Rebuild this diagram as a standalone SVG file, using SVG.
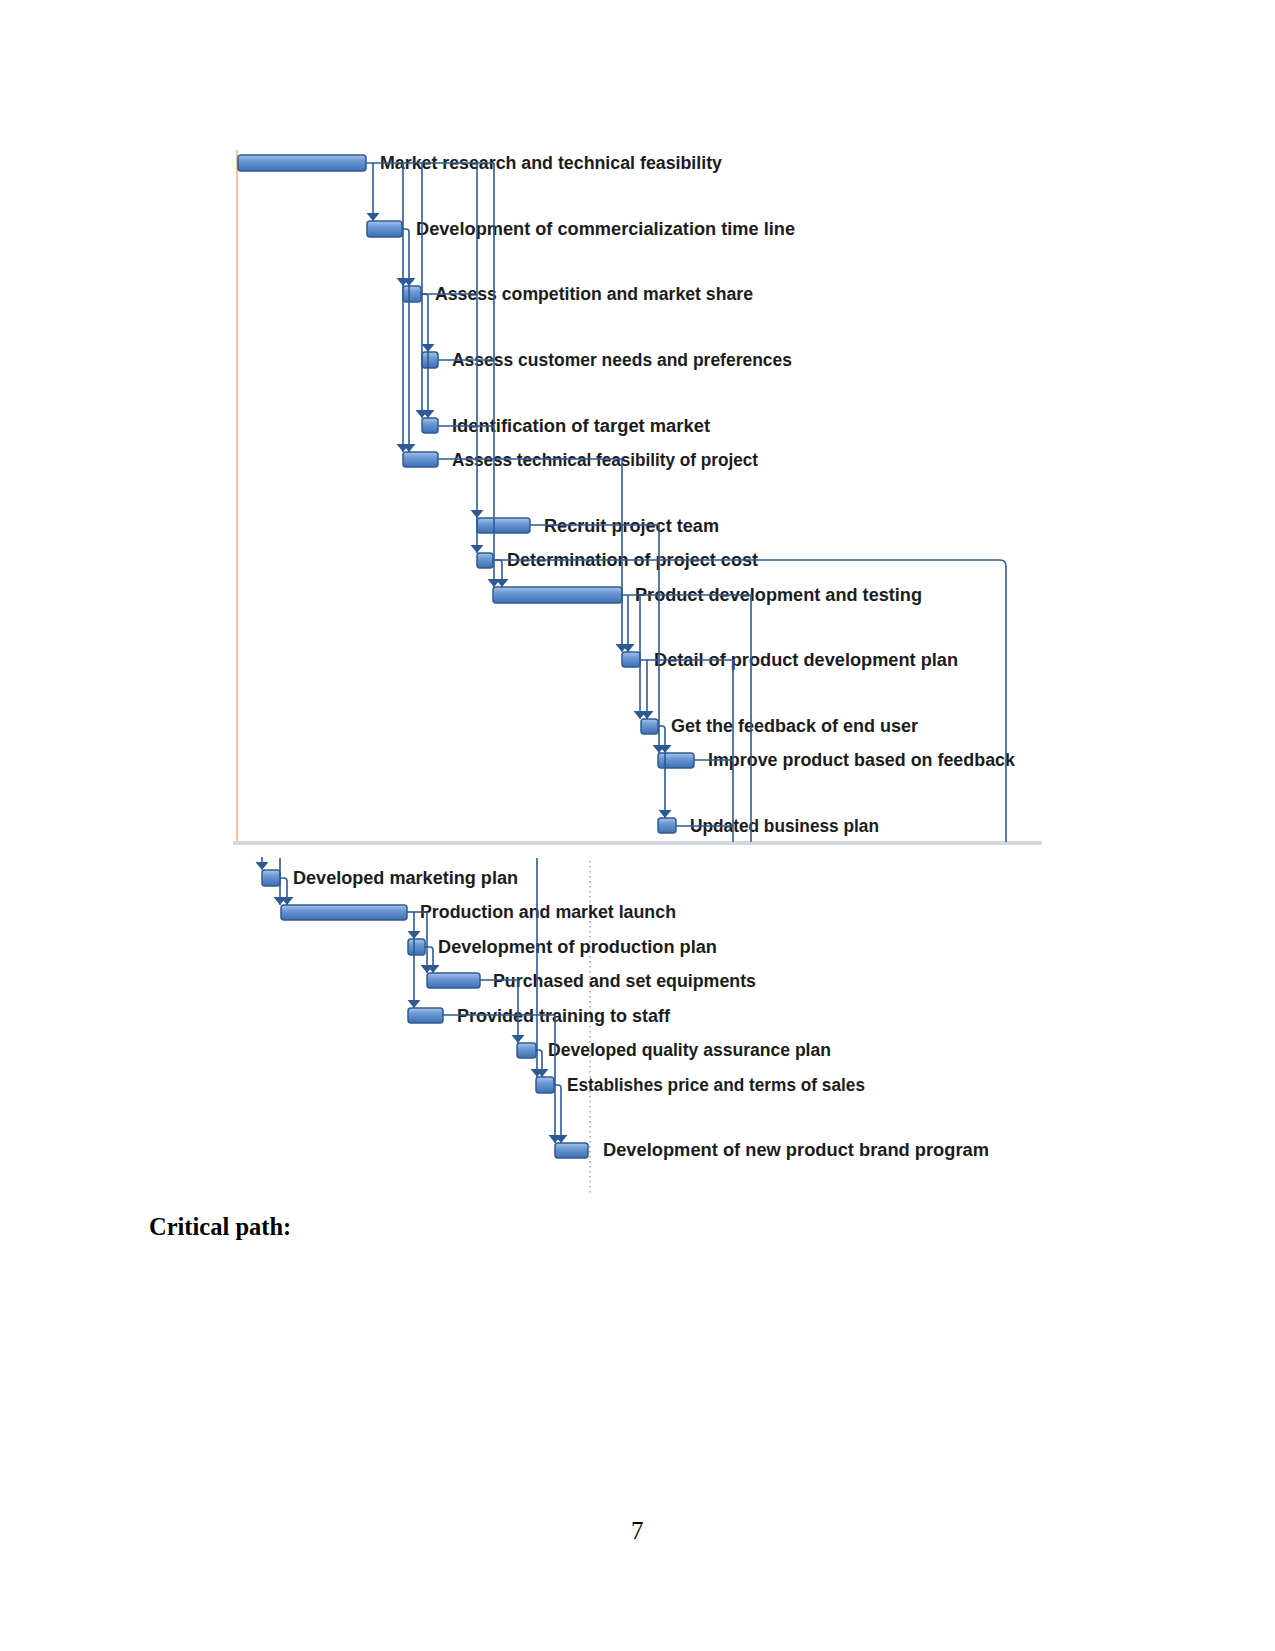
<svg xmlns="http://www.w3.org/2000/svg" xmlns:xlink="http://www.w3.org/1999/xlink" width="1275" height="1651" viewBox="0 0 1275 1651">
<style>
.bar{fill:url(#barg);stroke:#2f5b93;stroke-width:1.5}
.lbl{font-family:"Liberation Sans",Arial,sans-serif;font-weight:bold;font-size:18px;fill:#1c1c1c}
.ln{fill:none;stroke:#2e5a94;stroke-width:1.6}
.ah{fill:#2e5a94}
.pg{font-family:"Liberation Serif","Times New Roman",serif;fill:#000}
</style>
<defs>
<linearGradient id="barg" x1="0" y1="0" x2="0" y2="1">
<stop offset="0" stop-color="#a9c4e8"/>
<stop offset="0.35" stop-color="#6f9bd6"/>
<stop offset="1" stop-color="#3e6fb3"/>
</linearGradient>
<path id="arr" d="M-6.5,-8 L6.5,-8 L0,0 Z"/>
</defs>
<rect width="1275" height="1651" fill="#fff"/>
<line x1="237" y1="150" x2="237" y2="842" stroke="#f4b183" stroke-width="1.6"/>
<line x1="233" y1="843" x2="1042" y2="843" stroke="#d3d6da" stroke-width="4"/>
<line x1="590" y1="861" x2="590" y2="1195" stroke="#9a9a9a" stroke-width="1.4" stroke-dasharray="1.5 3.5"/>
<g id="nodes">
<g id="t1"><rect class="bar" x="238" y="155" width="128" height="16" rx="3"/><text class="lbl" x="380" y="169" textLength="342" lengthAdjust="spacingAndGlyphs">Market research and technical feasibility</text></g>
<g id="t2"><rect class="bar" x="367" y="221" width="35" height="16" rx="3"/><text class="lbl" x="416" y="235" textLength="379" lengthAdjust="spacingAndGlyphs">Development of commercialization time line</text></g>
<g id="t3"><rect class="bar" x="403" y="286" width="18" height="16" rx="3"/><text class="lbl" x="435" y="300" textLength="318" lengthAdjust="spacingAndGlyphs">Assess competition and market share</text></g>
<g id="t4"><rect class="bar" x="422" y="352" width="16" height="16" rx="3"/><text class="lbl" x="452" y="366" textLength="340" lengthAdjust="spacingAndGlyphs">Assess customer needs and preferences</text></g>
<g id="t5"><rect class="bar" x="422" y="418" width="16" height="15" rx="3"/><text class="lbl" x="452" y="432" textLength="258" lengthAdjust="spacingAndGlyphs">Identification of target market</text></g>
<g id="t6"><rect class="bar" x="403" y="452" width="35" height="15" rx="3"/><text class="lbl" x="452" y="466" textLength="306" lengthAdjust="spacingAndGlyphs">Assess technical feasibility of project</text></g>
<g id="t7"><rect class="bar" x="477" y="518" width="53" height="15" rx="3"/><text class="lbl" x="544" y="532" textLength="175" lengthAdjust="spacingAndGlyphs">Recruit project team</text></g>
<g id="t8"><rect class="bar" x="477" y="553" width="16" height="15" rx="3"/><text class="lbl" x="507" y="566" textLength="251" lengthAdjust="spacingAndGlyphs">Determination of project cost</text></g>
<g id="t9"><rect class="bar" x="493" y="587" width="129" height="16" rx="3"/><text class="lbl" x="635" y="601" textLength="287" lengthAdjust="spacingAndGlyphs">Product development and testing</text></g>
<g id="t10"><rect class="bar" x="622" y="652" width="18" height="15" rx="3"/><text class="lbl" x="654" y="666" textLength="304" lengthAdjust="spacingAndGlyphs">Detail of product development plan</text></g>
<g id="t11"><rect class="bar" x="641" y="719" width="17" height="15" rx="3"/><text class="lbl" x="671" y="732" textLength="247" lengthAdjust="spacingAndGlyphs">Get the feedback of end user</text></g>
<g id="t12"><rect class="bar" x="658" y="753" width="36" height="15" rx="3"/><text class="lbl" x="708" y="766" textLength="307" lengthAdjust="spacingAndGlyphs">Improve product based on feedback</text></g>
<g id="t13"><rect class="bar" x="658" y="818" width="18" height="15" rx="3"/><text class="lbl" x="690" y="832" textLength="189" lengthAdjust="spacingAndGlyphs">Updated business plan</text></g>
<g id="t14"><rect class="bar" x="262" y="870" width="18" height="16" rx="3"/><text class="lbl" x="293" y="884" textLength="225" lengthAdjust="spacingAndGlyphs">Developed marketing plan</text></g>
<g id="t15"><rect class="bar" x="281" y="905" width="126" height="15" rx="3"/><text class="lbl" x="420" y="918" textLength="256" lengthAdjust="spacingAndGlyphs">Production and market launch</text></g>
<g id="t16"><rect class="bar" x="408" y="939" width="17" height="16" rx="3"/><text class="lbl" x="438" y="953" textLength="279" lengthAdjust="spacingAndGlyphs">Development of production plan</text></g>
<g id="t17"><rect class="bar" x="427" y="973" width="53" height="15" rx="3"/><text class="lbl" x="493" y="987" textLength="263" lengthAdjust="spacingAndGlyphs">Purchased and set equipments</text></g>
<g id="t18"><rect class="bar" x="408" y="1008" width="35" height="15" rx="3"/><text class="lbl" x="457" y="1022" textLength="213" lengthAdjust="spacingAndGlyphs">Provided training to staff</text></g>
<g id="t19"><rect class="bar" x="517" y="1043" width="19" height="15" rx="3"/><text class="lbl" x="548" y="1056" textLength="283" lengthAdjust="spacingAndGlyphs">Developed quality assurance plan</text></g>
<g id="t20"><rect class="bar" x="536" y="1077" width="18" height="16" rx="3"/><text class="lbl" x="567" y="1091" textLength="298" lengthAdjust="spacingAndGlyphs">Establishes price and terms of sales</text></g>
<g id="t21"><rect class="bar" x="555" y="1143" width="33" height="15" rx="3"/><text class="lbl" x="603" y="1156" textLength="386" lengthAdjust="spacingAndGlyphs">Development of new product brand program</text></g>
</g>
<g id="connectors">
<path class="ln" d="M366,163 H494"/>
<path class="ln" d="M373,163 V221"/>
<path class="ln" d="M403,163 V452"/>
<path class="ln" d="M402,229 h4 q3,0 3,3 V452"/>
<path class="ln" d="M422,163 V418"/>
<path class="ln" d="M421,294 H477"/>
<path class="ln" d="M421,294 h4 q3,0 3,3 V418"/>
<path class="ln" d="M477,163 V553"/>
<path class="ln" d="M494,163 V587"/>
<path class="ln" d="M438,360 H494"/>
<path class="ln" d="M438,426 H494"/>
<path class="ln" d="M438,459 H622 V652"/>
<path class="ln" d="M530,525 H659 V753"/>
<path class="ln" d="M493,560 H1000 q6,0 6,6 V842"/>
<path class="ln" d="M493,560 h6 q3,0 3,3 V587"/>
<path class="ln" d="M622,595 H751 V842"/>
<path class="ln" d="M628,595 V652"/>
<path class="ln" d="M640,595 V719"/>
<path class="ln" d="M640,660 H733 V842"/>
<path class="ln" d="M647,660 V719"/>
<path class="ln" d="M658,726 h4 q3,0 3,3 V818"/>
<path class="ln" d="M694,760 H733"/>
<path class="ln" d="M676,826 H733"/>
<path class="ln" d="M262,857 V870"/>
<path class="ln" d="M280,858 V905"/>
<path class="ln" d="M280,878 h4 q3,0 3,3 V905"/>
<path class="ln" d="M537,858 V1077"/>
<path class="ln" d="M407,912 H427"/>
<path class="ln" d="M414,912 V1008"/>
<path class="ln" d="M427,912 V973"/>
<path class="ln" d="M425,947 h5 q3,0 3,3 V973"/>
<path class="ln" d="M480,980 H518 V1043"/>
<path class="ln" d="M443,1015 H555 V1143"/>
<path class="ln" d="M536,1050 h3 q3,0 3,3 V1077"/>
<path class="ln" d="M554,1085 h4 q3,0 3,3 V1143"/>
<g class="ah">
<use xlink:href="#arr" x="373" y="221"/>
<use xlink:href="#arr" x="403" y="286"/>
<use xlink:href="#arr" x="409" y="286"/>
<use xlink:href="#arr" x="428" y="352"/>
<use xlink:href="#arr" x="422" y="418"/>
<use xlink:href="#arr" x="428" y="418"/>
<use xlink:href="#arr" x="403" y="452"/>
<use xlink:href="#arr" x="409" y="452"/>
<use xlink:href="#arr" x="477" y="518"/>
<use xlink:href="#arr" x="477" y="553"/>
<use xlink:href="#arr" x="494" y="587"/>
<use xlink:href="#arr" x="502" y="587"/>
<use xlink:href="#arr" x="622" y="652"/>
<use xlink:href="#arr" x="628" y="652"/>
<use xlink:href="#arr" x="640" y="719"/>
<use xlink:href="#arr" x="647" y="719"/>
<use xlink:href="#arr" x="659" y="753"/>
<use xlink:href="#arr" x="665" y="753"/>
<use xlink:href="#arr" x="665" y="818"/>
<use xlink:href="#arr" x="262" y="870"/>
<use xlink:href="#arr" x="280" y="905"/>
<use xlink:href="#arr" x="287" y="905"/>
<use xlink:href="#arr" x="414" y="939"/>
<use xlink:href="#arr" x="427" y="973"/>
<use xlink:href="#arr" x="433" y="973"/>
<use xlink:href="#arr" x="414" y="1008"/>
<use xlink:href="#arr" x="518" y="1043"/>
<use xlink:href="#arr" x="537" y="1077"/>
<use xlink:href="#arr" x="542" y="1077"/>
<use xlink:href="#arr" x="555" y="1143"/>
<use xlink:href="#arr" x="561" y="1143"/>
</g>
</g>
<text class="pg" x="149" y="1235" font-size="24.5" font-weight="bold">Critical path:</text>
<text class="pg" x="631" y="1539" font-size="25">7</text>
</svg>
